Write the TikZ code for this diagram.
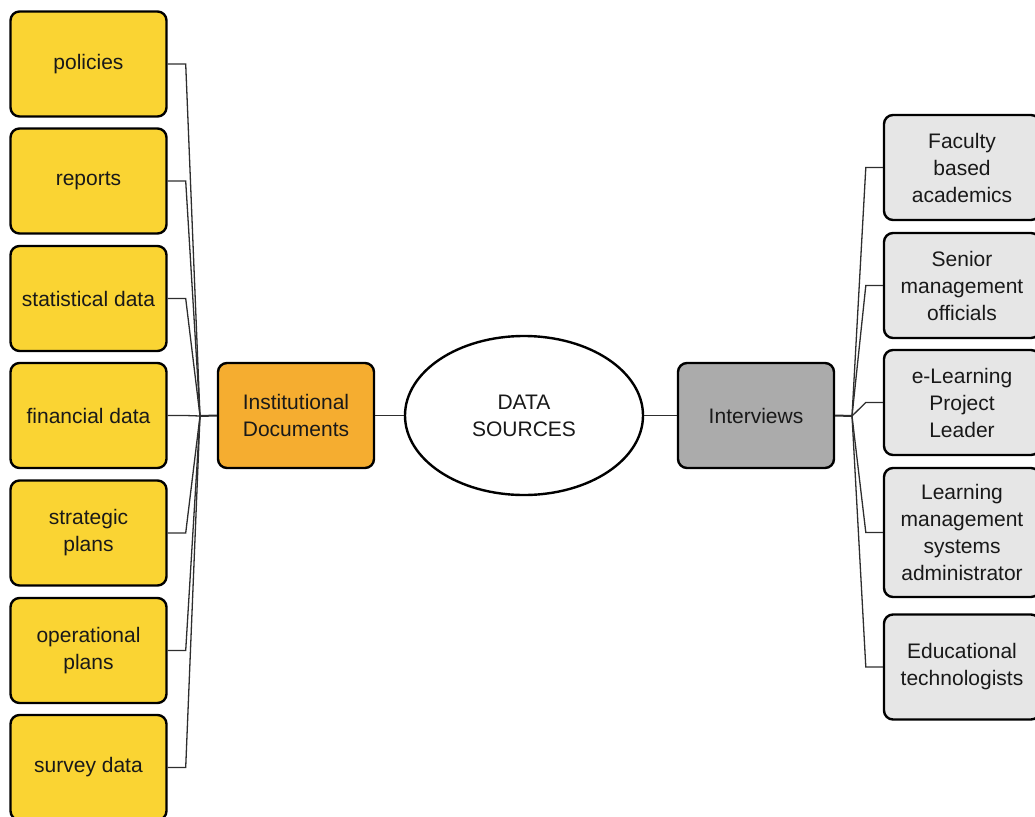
\documentclass[tikz,border=0pt]{standalone}
\usepackage{fontspec}
\setmainfont{Liberation Sans}
\usetikzlibrary{shapes.geometric}

\definecolor{docyellow}{HTML}{FAD433}
\definecolor{docorange}{HTML}{F5AD30}
\definecolor{ivgray}{HTML}{ABABAB}
\definecolor{ivlight}{HTML}{E6E6E6}
\definecolor{linkgray}{HTML}{2E2E2E}

\tikzset{
  x=1pt, y=-1pt,
  card/.style={draw=black, line width=2.4pt, rounded corners=9pt,
    align=center, inner sep=0pt, minimum width=156pt, minimum height=105pt,
    font=\fontsize{21}{27}\selectfont, text=black!90},
  leaf/.style={card, fill=docyellow},
  hub/.style={card, fill=docorange},
  ivhub/.style={card, fill=ivgray},
  person/.style={card, fill=ivlight},
  centre/.style={draw=black, line width=2.4pt, ellipse, fill=white,
    minimum width=238pt, minimum height=159pt, inner sep=0pt, align=center,
    font=\fontsize{21}{27}\selectfont, text=black!90},
  link/.style={draw=linkgray, line width=1.3pt, line join=miter},
  trunk/.style={link, line width=2pt}
}

\begin{document}
\begin{tikzpicture}
\useasboundingbox (0,0) rectangle (1035,816);
\clip (0,0) rectangle (1035,816);

% centre
\node[centre] (ds) at (524,415.5) {DATA\\SOURCES};

% hubs
\node[hub] (inst) at (296,415.5) {Institutional\\Documents};
\node[ivhub] (iv) at (756,415.5) {Interviews};

% document kinds
\node[leaf] (l1) at (88.5,64)    {policies};
\node[leaf] (l2) at (88.5,181)   {reports};
\node[leaf] (l3) at (88.5,298.5) {statistical data};
\node[leaf] (l4) at (88.5,415.5) {financial data};
\node[leaf] (l5) at (88.5,533)   {strategic\\plans};
\node[leaf] (l6) at (88.5,650.5) {operational\\plans};
\node[leaf] (l7) at (88.5,767.5) {survey data};

% interviewees
\node[person] (r1) at (962,167.5) {Faculty\\based\\academics};
\node[person] (r2) at (962,285.5) {Senior\\management\\officials};
\node[person] (r3) at (962,402.5) {e-Learning\\Project\\Leader};
\node[person, minimum height=129pt] (r4) at (962,532.5) {Learning\\management\\systems\\administrator};
\node[person] (r5) at (962,667) {Educational\\technologists};

% junctions
\coordinate (jl) at (200,416);
\coordinate (jr) at (852,416);

% links
\draw[link] (inst) -- (ds);
\draw[link] (ds) -- (iv);
\draw[trunk] (jl) -- (inst.west);
\foreach \n in {l1,l2,l3,l4,l5,l6,l7}
  \draw[link] (\n.east) -- ++(18,0) -- (jl);
\draw[trunk] (iv.east) -- (jr);
\foreach \n in {r1,r2,r3,r4,r5}
  \draw[link] (jr) -- ([xshift=-17pt]\n.west) -- (\n.west);
\end{tikzpicture}
\end{document}
